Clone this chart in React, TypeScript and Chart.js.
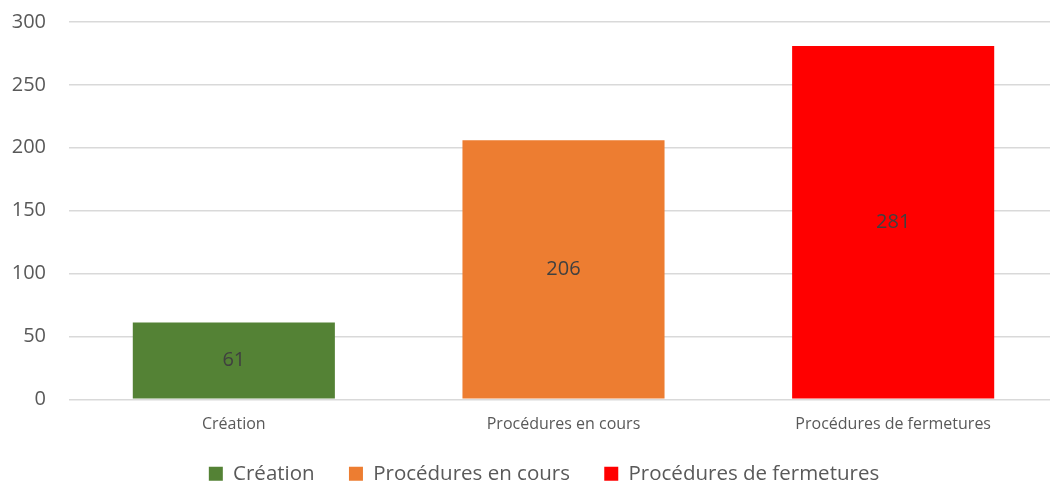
import React, { useEffect, useRef } from "react";
import { Chart, registerables } from "chart.js";

Chart.register(...registerables);

const categories = ["Création", "Procédures en cours", "Procédures de fermetures"];
const values = [61, 206, 281];
const barColors = ["#548235", "#ED7D31", "#FF0000"];
const yTicks = [0, 50, 100, 150, 200, 250, 300];

const FONT = "'Open Sans', 'DejaVu Sans', sans-serif";
const LEGEND_SHIFT = 15;

const valueLabels = {
  id: "valueLabels",
  afterLayout(chart: any) {
    if (chart.legend) {
      chart.legend.left += LEGEND_SHIFT;
      chart.legend.right += LEGEND_SHIFT;
    }
  },
  afterDatasetsDraw(chart: any) {
    const { ctx } = chart;
    const meta = chart.getDatasetMeta(0);
    ctx.save();
    ctx.font = `20px ${FONT}`;
    ctx.fillStyle = "#404040";
    ctx.textAlign = "center";
    ctx.textBaseline = "middle";
    meta.data.forEach((bar: any, i: number) => {
      const y = (bar.y + bar.base) / 2;
      ctx.fillText(String(values[i]), bar.x, y);
    });
    ctx.restore();
  },
};

export default function App() {
  const ref = useRef<HTMLCanvasElement | null>(null);
  useEffect(() => {
    if (!ref.current) return;
    const chart = new Chart(ref.current, {
      type: "bar",
      data: {
        labels: categories,
        datasets: [
          {
            label: "Valeurs",
            data: values,
            backgroundColor: barColors,
            borderWidth: 0,
            categoryPercentage: 1,
            barPercentage: 0.613,
          },
        ],
      },
      options: {
        responsive: false,
        animation: false,
        layout: { padding: { top: 22, right: 63, left: 0, bottom: 0 } },
        plugins: {
          tooltip: { enabled: false },
          legend: {
            position: "bottom",
            labels: {
              font: { family: FONT, size: 20.5 },
              color: "#595959",
              boxWidth: 14,
              boxHeight: 14,
              padding: 13,
              generateLabels: () =>
                categories.map((c, i) => ({
                  text: i < categories.length - 1 ? c + "    " : c,
                  fillStyle: barColors[i],
                  strokeStyle: barColors[i],
                  lineWidth: 0,
                  hidden: false,
                  index: i,
                  datasetIndex: 0,
                  fontColor: "#595959",
                })),
            },
          },
        },
        scales: {
          x: {
            grid: { display: false, drawTicks: false },
            border: { display: false },
            ticks: {
              font: { family: FONT, size: 16 },
              color: "#595959",
              padding: 16,
              maxRotation: 0,
            },
          },
          y: {
            min: 0,
            max: 300,
            afterBuildTicks: (scale: any) => {
              scale.ticks = yTicks.map((v) => ({ value: v }));
            },
            afterFit: (scale: any) => {
              scale.width = 69;
              scale.paddingTop = 0;
              scale.paddingBottom = 0;
            },
            grid: { color: "#D9D9D9", lineWidth: 1.5, drawTicks: false },
            border: { display: false },
            ticks: {
              font: { family: FONT, size: 20 },
              color: "#595959",
              padding: 23,
            },
          },
        },
      },
      plugins: [valueLabels],
    });
    return () => chart.destroy();
  }, []);

  return (
    <div
      style={{
        position: "fixed",
        left: 0,
        top: 0,
        width: 1050,
        height: 483,
        overflow: "hidden",
        background: "#ffffff",
      }}
    >
      <canvas ref={ref} width={1121} height={494} style={{ display: "block" }} />
    </div>
  );
}
